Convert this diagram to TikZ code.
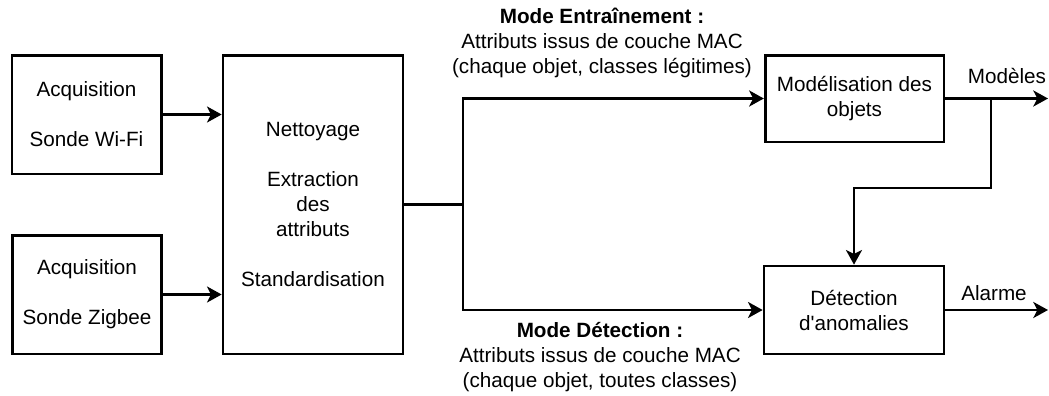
\documentclass[tikz,border=0pt]{standalone}
\usepackage{fontspec}
\setmainfont{Liberation Sans}
\usetikzlibrary{arrows.meta}
\begin{document}
\begin{tikzpicture}[x=0.75pt,y=-0.75pt,
		bloc/.style={draw,line width=2pt,align=center,inner sep=0pt,
			font=\fontsize{15.5}{18.75}\selectfont},
		txt/.style={align=center,inner sep=0pt,font=\fontsize{15.5}{18.75}\selectfont},
		fleche/.style={line width=2pt,-{Stealth[length=11pt,width=12pt,inset=3pt]}},
		lien/.style={line width=2pt}]
		\useasboundingbox (0,0) rectangle (1049,396);
		%%%% Acquisition
		\node[bloc,minimum width=112pt,minimum height=89pt] (wifi) at (86.5,114.5) {Acquisition\\[18.75pt]Sonde Wi-Fi};
		\node[bloc,minimum width=112pt,minimum height=89pt] (zigbee) at (87,294.5) {Acquisition\\[18.75pt]Sonde Zigbee};
		%%%% Pretraitement
		\node[bloc,minimum width=135pt,minimum height=224pt] (pretrait) at (313,204.5) {Nettoyage\\[18.75pt]Extraction\\des\\attributs\\[18.75pt]Standardisation};
		\draw[fleche] (wifi.east) -- (wifi.east -| pretrait.west);
		\draw[fleche] (zigbee.east) -- (zigbee.east -| pretrait.west);
		%%%% Modelisation et detection
		\node[bloc,minimum width=134pt,minimum height=65pt] (modele) at (854.5,98.5) {Mod\'elisation des\\objets};
		\node[bloc,minimum width=135pt,minimum height=66pt] (detect) at (854,310) {D\'etection\\d\textquotesingle anomalies};
		% Aiguillage
		\coordinate (aig) at (463,204.5);
		\draw[lien] (pretrait.east) -- (aig);
		\draw[fleche] (aig) |- (modele.west);
		\draw[fleche] (aig) |- (detect.west);
		% Sorties
		\coordinate (sortiemod) at (1048,98.5);
		\coordinate (sortiedet) at (1048,310);
		\coordinate (piquage) at (991,98.5);
		\draw[fleche] (modele.east) -- (sortiemod);
		\draw[fleche] (detect.east) -- (sortiedet);
		\draw[fleche] (piquage) -- ++(0,89.5) -| (detect.north);
		\node[txt] (lblmod) at (1007,76) {Mod\`eles};
		\node[txt] (lblalarme) at (994,293) {Alarme};
		%%%% Modes
		\node[txt] (entrain) at (602,43) {\textbf{Mode Entra\^inement :}\\Attributs issus de couche MAC\\(chaque objet, classes l\'egitimes)};
		\node[txt] (detection) at (600,357) {\textbf{Mode D\'etection :}\\Attributs issus de couche MAC\\(chaque objet, toutes classes)};
\end{tikzpicture}
\end{document}
